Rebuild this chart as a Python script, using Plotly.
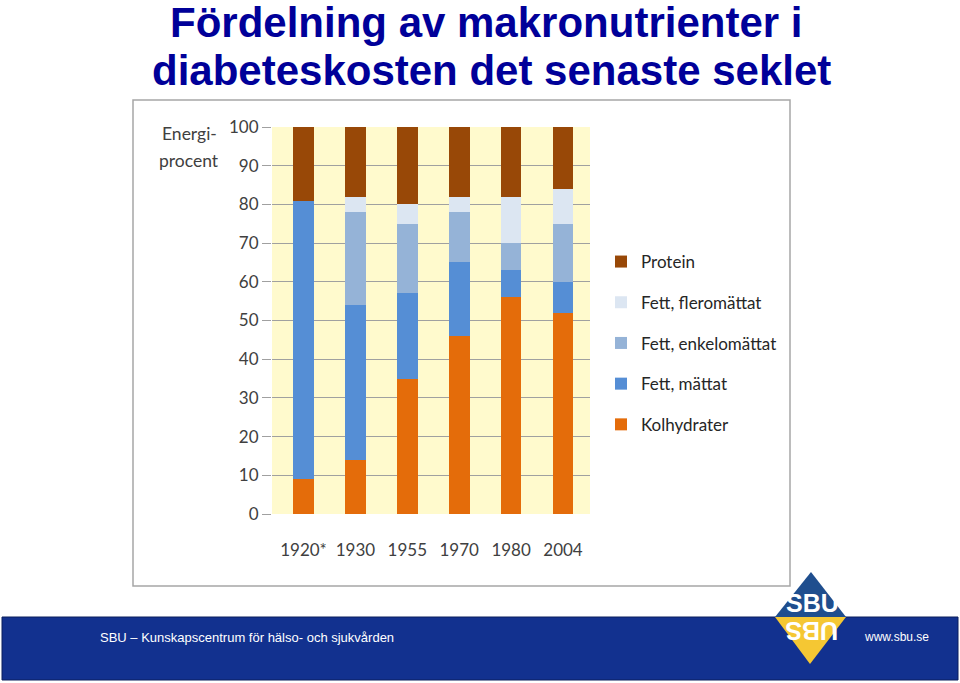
import plotly.graph_objects as go

# ---- data ----
years = ["1920*", "1930", "1955", "1970", "1980", "2004"]
kolhydrater = [9, 14, 35, 46, 56, 52]
fett_mattat = [72, 40, 22, 19, 7, 8]
fett_enkelomattat = [0, 24, 18, 13, 7, 15]
fett_fleromattat = [0, 4, 5, 4, 12, 9]
protein = [19, 18, 20, 18, 18, 16]
y_ticks = [0, 10, 20, 30, 40, 50, 60, 70, 80, 90, 100]

series = [
    ("Kolhydrater", kolhydrater, "#E46C0A"),
    ("Fett, mättat", fett_mattat, "#558ED5"),
    ("Fett, enkelomättat", fett_enkelomattat, "#95B3D7"),
    ("Fett, fleromättat", fett_fleromattat, "#DCE6F2"),
    ("Protein", protein, "#984807"),
]

W, H = 960, 683
def px(x):
    return x / W
def py(y):
    return 1 - y / H

fig = go.Figure()
n = len(series)
for i, (name, vals, col) in enumerate(series):
    fig.add_trace(go.Bar(
        x=years, y=vals, name=name, marker=dict(color=col, line=dict(width=0)),
        width=0.4, legendgroup=name, legendrank=n - i,
    ))

chart_font = "Lato, 'Noto Sans', sans-serif"
title_font = dict(family="Liberation Sans, Arial, sans-serif", size=42, color="#000099")
footer_font = "'Liberation Sans', Arial, sans-serif"
fig.update_layout(
    width=W, height=H, autosize=False,
    margin=dict(l=0, r=0, t=0, b=0, pad=0, autoexpand=False),
    paper_bgcolor="white",
    plot_bgcolor="#FFFACD",
    barmode="stack",
    bargap=0,
    font=dict(family=chart_font, size=17, color="#404040"),
    xaxis=dict(
        domain=[px(272), px(590)],
        type="category",
        range=[-0.607, 5.52],
        showgrid=False, zeroline=False, showline=False,
        ticks="", ticklabelstandoff=24, automargin=False,
        tickfont=dict(family=chart_font, size=17, color="#404040"),
        fixedrange=True,
    ),
    yaxis=dict(
        domain=[py(514), py(127)],
        range=[0, 100],
        tickvals=y_ticks,
        showgrid=True, gridcolor="#A0A0A0", gridwidth=1.3,
        zeroline=False, showline=False, automargin=False,
        ticks="outside", ticklen=9, tickcolor="#A0A0A0", tickwidth=1.3,
        tickfont=dict(family=chart_font, size=17, color="#404040"),
        fixedrange=True,
    ),
    legend=dict(
        x=px(601), y=py(244), xanchor="left", yanchor="top",
        traceorder="grouped", tracegroupgap=15.6,
        font=dict(family=chart_font, size=17, color="#262626"),
        bgcolor="rgba(0,0,0,0)",
    ),
    shapes=[
        # chart frame
        dict(type="rect", xref="paper", yref="paper",
             x0=px(133), x1=px(790), y0=py(586), y1=py(100),
             line=dict(color="#A6A6A6", width=1.5), fillcolor="rgba(0,0,0,0)", layer="below"),
        # footer bar
        dict(type="rect", xref="paper", yref="paper",
             x0=px(2), x1=px(958), y0=py(680), y1=py(617),
             line=dict(color="#0B1E5C", width=1), fillcolor="#12318F", layer="above"),
        # logo top half
        dict(type="path", xref="paper", yref="paper",
             path=f"M {px(811)},{py(572)} L {px(846)},{py(617)} L {px(775)},{py(617)} Z",
             fillcolor="#1F4E8E", line=dict(width=0), layer="above"),
        # logo bottom half
        dict(type="path", xref="paper", yref="paper",
             path=f"M {px(775)},{py(617)} L {px(846)},{py(617)} L {px(810)},{py(664)} Z",
             fillcolor="#F5C733", line=dict(width=0), layer="above"),
    ],
    annotations=[
        dict(text="<b>Fördelning av makronutrienter i</b>",
             xref="paper", yref="paper", x=px(486), y=py(22.5), xanchor="center", yanchor="middle",
             showarrow=False, font=title_font),
        dict(text="<b>diabeteskosten det senaste seklet</b>",
             xref="paper", yref="paper", x=px(491), y=py(71), xanchor="center", yanchor="middle",
             showarrow=False, font=title_font),
        dict(text="Energi-", xref="paper", yref="paper",
             x=px(189), y=py(133), xanchor="center", yanchor="middle",
             showarrow=False, font=dict(family=chart_font, size=17.5, color="#404040")),
        dict(text="procent", xref="paper", yref="paper",
             x=px(189), y=py(160), xanchor="center", yanchor="middle",
             showarrow=False, font=dict(family=chart_font, size=17.5, color="#404040")),
        dict(text="SBU – Kunskapscentrum för hälso- och sjukvården", xref="paper", yref="paper",
             x=px(98), y=py(637), xanchor="left", yanchor="middle", showarrow=False,
             font=dict(family=footer_font, size=13, color="white")),
        dict(text="www.sbu.se", xref="paper", yref="paper",
             x=px(862), y=py(637), xanchor="left", yanchor="middle", showarrow=False,
             font=dict(family=footer_font, size=12, color="white")),
        dict(text="<b>SBU</b>", xref="paper", yref="paper",
             x=px(812), y=py(603), xanchor="center", yanchor="middle", showarrow=False,
             font=dict(family="Liberation Sans, Arial, sans-serif", size=25, color="white")),
        dict(text="<b>UBS</b>", xref="paper", yref="paper", textangle=180,
             x=px(812), y=py(631), xanchor="center", yanchor="middle", showarrow=False,
             font=dict(family="Liberation Sans, Arial, sans-serif", size=25, color="white")),
    ],
)

fig.write_html("out.html")
